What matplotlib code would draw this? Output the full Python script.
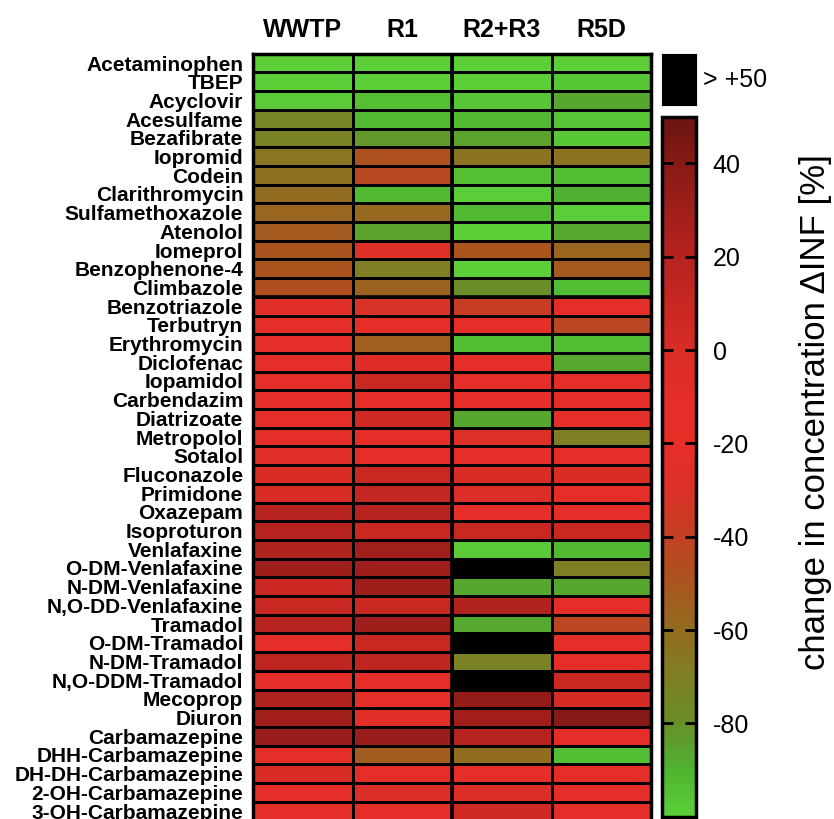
import matplotlib
matplotlib.use("Agg")
import matplotlib.pyplot as plt
import numpy as np
from matplotlib.colors import LinearSegmentedColormap, Normalize
from matplotlib.transforms import blended_transform_factory

plt.rcParams["font.family"] = ["Liberation Sans", "DejaVu Sans"]
plt.rcParams["axes.unicode_minus"] = False

# ---- data: change in concentration relative to influent, % ----
compounds = [
    "Acetaminophen", "TBEP", "Acyclovir", "Acesulfame", "Bezafibrate",
    "Iopromid", "Codein", "Clarithromycin", "Sulfamethoxazole", "Atenolol",
    "Iomeprol", "Benzophenone-4", "Climbazole", "Benzotriazole", "Terbutryn",
    "Erythromycin", "Diclofenac", "Iopamidol", "Carbendazim", "Diatrizoate",
    "Metropolol", "Sotalol", "Fluconazole", "Primidone", "Oxazepam",
    "Isoproturon", "Venlafaxine", "O-DM-Venlafaxine", "N-DM-Venlafaxine",
    "N,O-DD-Venlafaxine", "Tramadol", "O-DM-Tramadol", "N-DM-Tramadol",
    "N,O-DDM-Tramadol", "Mecoprop", "Diuron", "Carbamazepine",
    "DHH-Carbamazepine", "DH-DH-Carbamazepine", "2-OH-Carbamazepine",
    "3-OH-Carbamazepine",
]
sites = ["WWTP", "R1", "R2+R3", "R5D"]

# values above +50 % are shown in black
wwtp = [-100, -100, -98, -74, -73, -65, -62, -60, -57, -52, -50, -50, -47,
        -27, -15, -15, -10, -12, -14, -12, -12, -8, 0, 0, 20,
        20, 23, 31, 8, 10, 20, -10, 15, -12, 23, 29, 33,
        -12, 0, -12, -12]
r1 = [-100, -100, -94, -92, -82, -48, -44, -92, -58, -85, -28, -70, -56,
      -31, -15, -54, -5, 10, -12, 5, -14, -14, 10, 12, 20,
      10, 30, 31, 31, 10, 31, 10, 15, -12, -12, -8, 33,
      -53, -12, -3, -12]
r2r3 = [-100, -100, -96, -92, -85, -64, -94, -99, -92, -100, -50, -100, -79,
        -38, -15, -93, -15, -12, -13, -86, -30, -14, 0, -3, -12,
        10, -98, 75, -86, 23, -87, 75, -72, 75, 35, 29, 20,
        -60, -12, -3, 6]
r5d = [-100, -97, -86, -96, -97, -64, -93, -89, -99, -87, -57, -52, -93,
       -22, -42, -93, -87, -12, -11, -12, -70, -10, 0, -10, -12,
       10, -92, -70, -86, -10, -42, -12, -12, 10, 3, 40, -12,
       -93, -12, -12, -12]

cbar_ticks = [-80, -60, -40, -20, 0, 20, 40]
vmin, vmax = -100, 50

# green -> brown -> red -> dark red scale
cmap_points = [-100, -90, -80, -70, -60, -50, -40, -30, -20, -10, 0, 10, 20, 30, 40, 50]
cmap_colors = ["#5ccf38", "#4eb330", "#688e28", "#807e24", "#926c20", "#aa541e",
               "#c24024", "#dc3026", "#e62e27", "#e42e27", "#d92c25", "#c82722",
               "#b6231f", "#a01e1b", "#871a16", "#6a1512"]

cmap = LinearSegmentedColormap.from_list(
    "change", [((p - vmin) / (vmax - vmin), c) for p, c in zip(cmap_points, cmap_colors)])
cmap.set_over("black")
norm = Normalize(vmin=vmin, vmax=vmax)

W, H = 834, 819
fig = plt.figure(figsize=(W / 100, H / 100), dpi=100)

ax = fig.add_axes([253 / W, (H - 820.4) / H, 398 / W, 766.7 / H])
data = np.column_stack([wwtp, r1, r2r3, r5d])
n_rows, n_cols = data.shape
mesh = ax.pcolormesh(np.arange(n_cols + 1), np.arange(n_rows + 1), data,
                     cmap=cmap, norm=norm, edgecolors="black", linewidth=0.8)
ax.set_xlim(0, n_cols)
ax.set_ylim(n_rows, 0)
ax.set_xticks([])
ax.set_yticks(np.arange(n_rows) + 0.5, compounds, fontsize=15, fontweight="bold")
ax.tick_params(axis="y", length=0, pad=7)
for s in ax.spines.values():
    s.set_linewidth(2.5)
ax.axhline(13, color="black", lw=2.6)
ax.axvline(2, color="black", lw=2.6)

trans = blended_transform_factory(ax.transData, ax.transAxes)
for i, name in enumerate(sites):
    ax.text(i + 0.5, 1 + 17 / 766.7, name, transform=trans, ha="center",
            va="baseline", fontsize=18, fontweight="bold")

# colour bar
cax = fig.add_axes([662 / W, (H - 816.7) / H, 34 / W, 700 / H])
cb = fig.colorbar(mesh, cax=cax, ticks=cbar_ticks)
cb.outline.set_linewidth(2.5)
cax.tick_params(axis="y", direction="in", length=8, width=2, left=True, right=True,
                labelleft=False, labelright=True, labelsize=18, pad=12)

# swatch for values above the scale
bax = fig.add_axes([662 / W, (H - 105) / H, 34 / W, 51 / H])
bax.set_facecolor("black")
bax.set_xticks([])
bax.set_yticks([])
fig.text(703 / W, (H - 80) / H, "> +50", fontsize=18, ha="left", va="center")

fig.text(816 / W, (H - 412) / H, "change in concentration \u0394INF [%]",
         rotation=90, fontsize=25, ha="center", va="center")

fig.savefig("out.png", dpi=100)
